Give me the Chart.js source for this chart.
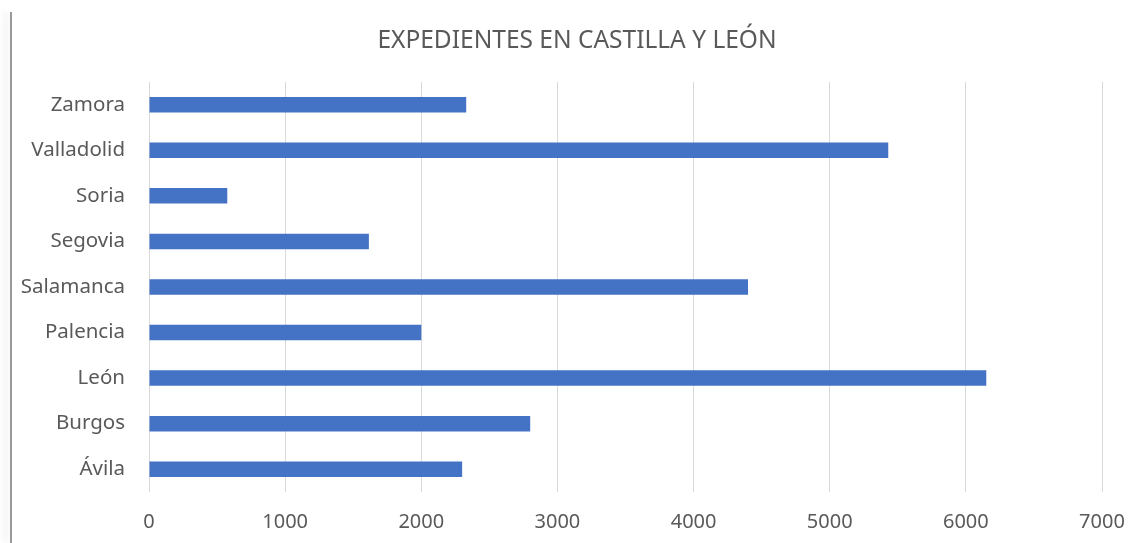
<!DOCTYPE html>
<html lang="es">
<head>
    <meta charset="UTF-8">
    <title>Expedientes en Castilla y León</title>
    <script src="https://cdn.jsdelivr.net/npm/chart.js"></script>
    <style>
        body {
            margin: 0;
            background: white;
            width: 1138px;
            height: 543px;
            overflow: hidden;
            position: relative;
        }

        .frame {
            position: absolute;
            left: 10px;
            top: 12px;
            bottom: 0;
            width: 2px;
            background: #9a9a9a;
            box-shadow: -5px 0 6px rgba(0, 0, 0, 0.12);
        }

        .wrap {
            position: absolute;
            left: 16px;
            top: 0;
            width: 1122px;
            height: 543px;
        }
    </style>
</head>
<body>
<div class="frame"></div>
<div class="wrap"><canvas id="expChart"></canvas></div>

<script>
    const provincias = ["Ávila", "Burgos", "León", "Palencia", "Salamanca", "Segovia", "Soria", "Valladolid", "Zamora"];
    const expedientes = [2300, 2800, 6150, 2000, 4400, 1615, 575, 5430, 2330];

    const textColor = '#595959';
    const font = "'Noto Sans', sans-serif";

    const ctx = document.getElementById('expChart').getContext('2d');

    const expChart = new Chart(ctx, {
        type: 'bar',
        data: {
            labels: provincias,
            datasets: [{
                label: 'Expedientes',
                data: expedientes,
                backgroundColor: '#4472C4',
                categoryPercentage: 1,
                barPercentage: 0.34
            }]
        },
        options: {
            indexAxis: 'y',
            responsive: true,
            maintainAspectRatio: false,
            animation: false,
            layout: {
                padding: 0
            },
            scales: {
                x: {
                    min: 0,
                    max: 7000,
                    ticks: {
                        stepSize: 1000,
                        color: textColor,
                        padding: 18,
                        font: { family: font, size: 20 },
                        callback: function(value) {
                            return String(value); // no thousands separator
                        }
                    },
                    grid: {
                        color: '#d9d9d9',
                        drawTicks: false
                    },
                    border: { display: false },
                    afterFit: function(scale) {
                        scale.height = 51;
                        scale.paddingRight = 36;
                    }
                },
                y: {
                    reverse: true,
                    ticks: {
                        color: textColor,
                        padding: 24,
                        font: { family: font, size: 20.5 }
                    },
                    grid: { display: false, drawTicks: false },
                    border: { display: false },
                    afterFit: function(scale) {
                        scale.width = 133;
                    }
                }
            },
            plugins: {
                legend: { display: false },
                tooltip: { enabled: false },
                title: {
                    display: true,
                    text: 'EXPEDIENTES EN CASTILLA Y LEÓN',
                    color: textColor,
                    font: { family: font, size: 24.5, weight: 'normal' },
                    padding: { top: 26, bottom: 26.5 }
                }
            }
        }
    });
</script>
</body>
</html>
